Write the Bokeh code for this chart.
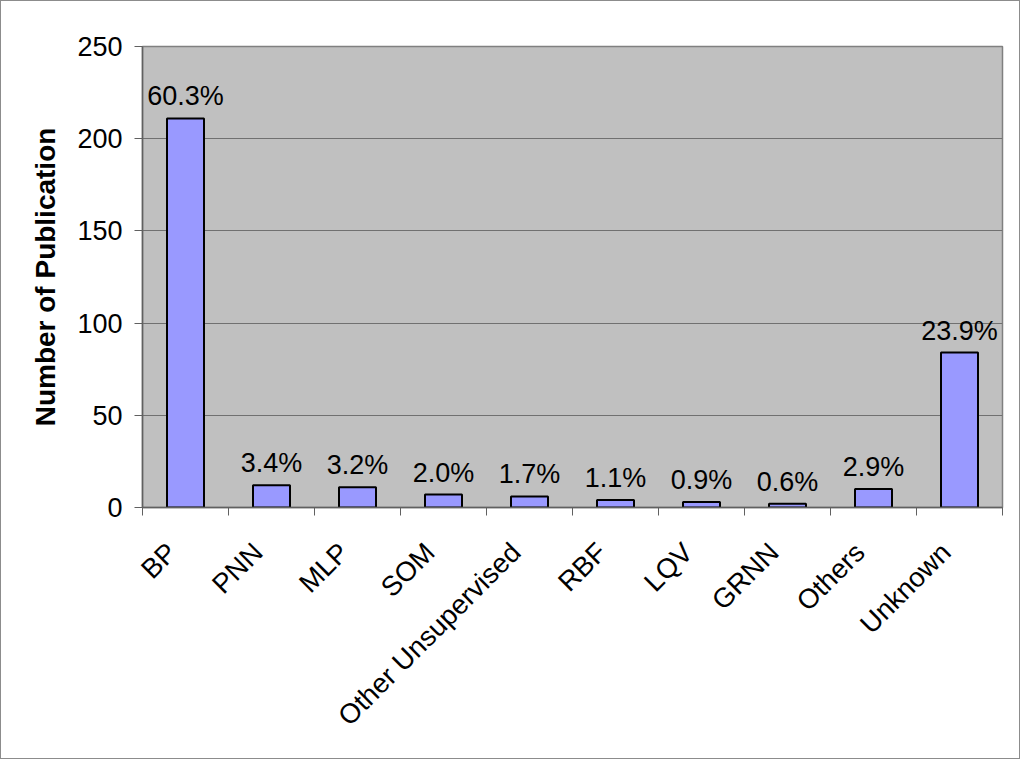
import math
from bokeh.plotting import figure
from bokeh.models import (Range1d, FixedTicker, CustomJSTickFormatter,
                          ColumnDataSource)
from bokeh.core.properties import value
from bokeh.embed import file_html
from bokeh.resources import INLINE

categories = ["BP", "PNN", "MLP", "SOM", "Other Unsupervised", "RBF",
              "LQV", "GRNN", "Others", "Unknown"]
counts = [211, 12, 11, 7, 6, 4, 3, 2, 10, 84]
pct_labels = ["60.3%", "3.4%", "3.2%", "2.0%", "1.7%", "1.1%",
              "0.9%", "0.6%", "2.9%", "23.9%"]
y_ticks = [0, 50, 100, 150, 200, 250]

FONT = "Liberation Sans"
n = len(categories)
centers = [i + 0.5 for i in range(n)]
# rotated labels end slightly left of the category centre (Excel style)
label_anchor = [i + 0.34 for i in range(n)]
src = ColumnDataSource(dict(x=centers, top=counts, label=pct_labels))

p = figure(width=1020, height=759, output_backend="svg", toolbar_location=None,
           x_range=Range1d(0, n), y_range=Range1d(0, 250),
           min_border_left=141, min_border_right=19,
           min_border_top=45, min_border_bottom=253,
           background_fill_color="#C0C0C0", border_fill_color="white",
           styles={"border": "1px solid #8c8c8c", "box-sizing": "border-box"})
p.outline_line_color = "#808080"
p.outline_line_width = 1.5

p.vbar(x="x", top="top", width=0.43, bottom=0, source=src,
       fill_color="#9999FF", line_color="black", line_width=2)

p.text(x="x", y="top", text="label", source=src, text_align="center",
       text_baseline="alphabetic", y_offset=-22,
       text_font=value(FONT), text_font_size="27px", text_color="black")

# y axis
p.yaxis.ticker = FixedTicker(ticks=y_ticks)
p.yaxis.axis_label = "Number of Publication"
p.yaxis.axis_label_text_font = FONT
p.yaxis.axis_label_text_font_style = "bold"
p.yaxis.axis_label_text_font_size = "28px"
p.yaxis.axis_label_text_color = "black"
p.yaxis.axis_label_standoff = 13
p.yaxis.major_label_text_font = FONT
p.yaxis.major_label_text_font_size = "27px"
p.yaxis.major_label_text_color = "black"
p.yaxis.major_label_standoff = 12
p.yaxis.major_tick_out = 8
p.yaxis.major_tick_in = 0
p.yaxis.minor_tick_out = 0
p.yaxis.minor_tick_in = 0
p.yaxis.axis_line_color = "#606060"
p.yaxis.axis_line_width = 1.5
p.yaxis.major_tick_line_color = "#606060"

# x axis: labels near centres, tick marks between categories
p.xaxis.ticker = FixedTicker(ticks=label_anchor, minor_ticks=list(range(n + 1)))
p.xaxis.formatter = CustomJSTickFormatter(args=dict(names=categories),
                                          code="return names[Math.floor(tick)] || '';")
p.xaxis.major_label_orientation = math.pi / 4
p.xaxis.major_label_text_font = FONT
p.xaxis.major_label_text_font_size = "27.5px"
p.xaxis.major_label_text_color = "black"
p.xaxis.major_label_standoff = 32
p.xaxis.major_tick_out = 0
p.xaxis.major_tick_in = 0
p.xaxis.minor_tick_out = 8
p.xaxis.minor_tick_in = 0
p.xaxis.minor_tick_line_color = "#606060"
p.xaxis.axis_line_color = "#606060"
p.xaxis.axis_line_width = 1.5

p.xgrid.grid_line_color = None
p.ygrid.grid_line_color = "#707070"
p.ygrid.grid_line_width = 1

open("out.html", "w").write(file_html(p, INLINE))
